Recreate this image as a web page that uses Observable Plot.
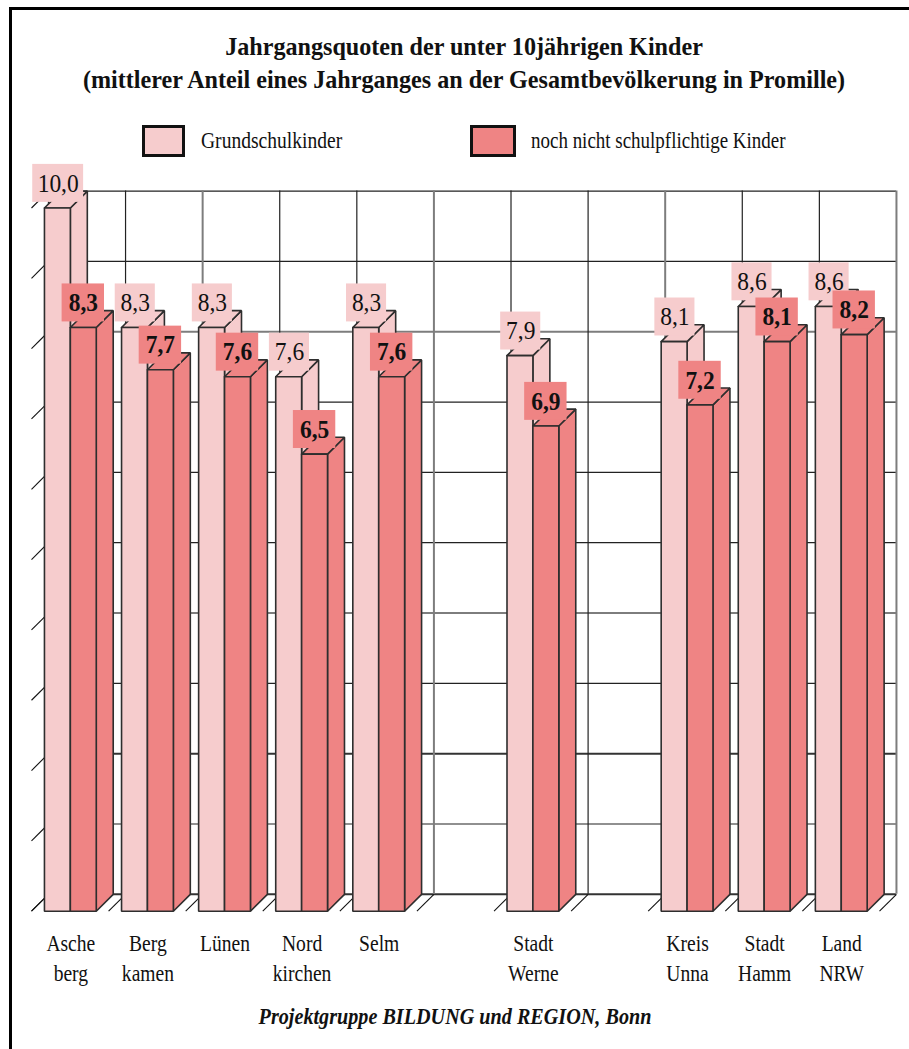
<!DOCTYPE html>
<html lang="de">
<head>
<meta charset="utf-8">
<title>Jahrgangsquoten der unter 10jährigen Kinder</title>
<script src="https://cdn.jsdelivr.net/npm/d3@7"></script>
<script src="https://cdn.jsdelivr.net/npm/@observablehq/plot@0.6"></script>
<style>
  html, body { margin: 0; padding: 0; background: #fff; }
  #page { position: relative; width: 909px; height: 1049px; overflow: hidden; font-family: "Liberation Serif", serif; color: #111; }
  #frame-top { position: absolute; left: 9px; right: 0; top: 7px; height: 3px; background: #000; }
  #frame-left { position: absolute; left: 9px; top: 7px; bottom: 0; width: 3px; background: #000; }
  .line { position: absolute; white-space: nowrap; transform-origin: center; }
  .title { left: 0; width: 928px; text-align: center; font-weight: bold; font-size: 26px; line-height: 30px; transform: scaleX(.928); }
  .legend-text { font-size: 23px; line-height: 28px; transform-origin: left center; transform: scaleX(.85); }
  .swatch { position: absolute; box-sizing: border-box; top: 125px; height: 32px; border: 3px solid #111; }
  #caption { left: 0; width: 910px; top: 1002px; text-align: center; font-weight: bold; font-style: italic; font-size: 23px; line-height: 30px; transform: scaleX(.877); }
  #chart { position: absolute; left: 0; top: 160px; }
  #chart svg { display: block; }
</style>
</head>
<body>
<div id="page">
  <div id="frame-top"></div>
  <div id="frame-left"></div>
  <div class="line title" style="top:32px">Jahrgangsquoten der unter 10jährigen Kinder</div>
  <div class="line title" style="top:65px">(mittlerer Anteil eines Jahrganges an der Gesamtbevölkerung in Promille)</div>
  <div class="swatch" style="left:142px;width:43px;background:#f6cccd"></div>
  <div class="line legend-text" style="left:201px;top:127px">Grundschulkinder</div>
  <div class="swatch" style="left:470px;width:46px;background:#ef8484"></div>
  <div class="line legend-text" style="left:531px;top:127px;transform:scaleX(.825)">noch nicht schulpflichtige Kinder</div>
  <div id="chart"></div>
  <div class="line" id="caption">Projektgruppe BILDUNG und REGION, Bonn</div>
</div>
<script>
// Category slots along the floor; the gaps separate towns, Kreis and comparison areas.
const slots = [0, 1, 2, 3, 4, 6, 8, 9, 10];
const labelTop = ["Asche", "Berg", "Lünen", "Nord", "Selm", "Stadt", "Kreis", "Stadt", "Land"];
const labelBottom = ["berg", "kamen", "", "kirchen", "", "Werne", "Unna", "Hamm", "NRW"];
const grundschule = [10.0, 8.3, 8.3, 7.6, 8.3, 7.9, 8.1, 8.6, 8.6];
const vorschule = [8.3, 7.7, 7.6, 6.5, 7.6, 6.9, 7.2, 8.1, 8.2];

const PINK = "#f6cccd";
const RED = "#ef8484";
const INK = "#2e2e2e";

// Oblique projection of the pseudo-3D bars, in scale units.
const DEPTH_X = 0.22;
const DEPTH_Y = 0.24;
const BAR_START = 0.168;
const BAR_WIDTH = 0.336;
const BOX_GAP = 0.08;
const BOX_HEIGHT = 0.54;

// Line weights of the back wall, which vary from line to line.
const THIN = {stroke: "#222", strokeWidth: 1.2};
const GREY = {stroke: "#7d7d7d", strokeWidth: 2};
const HEAVY = {stroke: "#333", strokeWidth: 2};
const rowStyles = [HEAVY, THIN, HEAVY, THIN, GREY, THIN, THIN, THIN, GREY, THIN, THIN];
const columnStyles = [THIN, THIN, GREY, THIN, THIN, GREY, THIN, THIN, GREY, THIN, THIN, GREY];

const comma = (v) => v.toFixed(1).replace(".", ",");

const bars = slots.map((s, i) => ({
  s,
  top: labelTop[i],
  bottom: labelBottom[i],
  pink: grundschule[i],
  red: vorschule[i]
}));

// Three closed faces (side, top, front) for one bar.
function faces(x1, x2, v, key) {
  const poly = (name, pts) => [...pts, pts[0]].map(([x, y]) => ({id: key + name, x, y}));
  return [
    ...poly("side", [[x2, v], [x2 + DEPTH_X, v + DEPTH_Y], [x2 + DEPTH_X, DEPTH_Y], [x2, 0]]),
    ...poly("top", [[x1, v], [x1 + DEPTH_X, v + DEPTH_Y], [x2 + DEPTH_X, v + DEPTH_Y], [x2, v]]),
    ...poly("front", [[x1, v], [x2, v], [x2, 0], [x1, 0]])
  ];
}

const pinkFaces = bars.flatMap((d) =>
  faces(d.s + BAR_START, d.s + BAR_START + BAR_WIDTH, d.pink, "p" + d.s));
const redFaces = bars.flatMap((d) =>
  faces(d.s + BAR_START + BAR_WIDTH, d.s + BAR_START + 2 * BAR_WIDTH, d.red, "r" + d.s));

const rows = d3.range(0, 11);
const columns = d3.range(0, 12);

const gridRows = rowStyles.map((style, v) =>
  Plot.ruleY([v + DEPTH_Y], {x1: DEPTH_X, x2: 11 + DEPTH_X, ...style}));
const gridColumns = columnStyles.map((style, c) =>
  Plot.ruleX([c + DEPTH_X], {y1: DEPTH_Y, y2: 10 + DEPTH_Y, ...style}));

const valueBox = (key, offset, width, fill) =>
  Plot.rect(bars, {
    x1: (d) => d.s + offset - width(d) / 2,
    x2: (d) => d.s + offset + width(d) / 2,
    y1: (d) => d[key] + BOX_GAP,
    y2: (d) => d[key] + BOX_GAP + BOX_HEIGHT,
    fill
  });

const valueText = (key, offset, fontWeight) =>
  Plot.text(bars, {
    x: (d) => d.s + offset,
    y: (d) => d[key] + BOX_GAP + BOX_HEIGHT / 2,
    text: (d) => comma(d[key]),
    fontSize: 26,
    fontWeight,
    fill: "#111"
  });

const PINK_CENTER = BAR_START + BAR_WIDTH / 2 + 0.01;
const RED_CENTER = BAR_START + 1.5 * BAR_WIDTH;

const chart = Plot.plot({
  width: 909,
  height: 840,
  margin: 0,
  style: {fontFamily: "Liberation Serif", background: "transparent"},
  x: {domain: [0, 11], range: [31, 879], axis: null},
  y: {domain: [0, 10], range: [750.7, 47.5], axis: null},
  marks: [
    ...gridRows,
    ...gridColumns,
    // Depth ticks on the left edge and floor divisions between the slots.
    Plot.link(rows, {x1: 0, x2: DEPTH_X, y1: (v) => v, y2: (v) => v + DEPTH_Y, stroke: "#111", strokeWidth: 1.1}),
    Plot.link(columns, {x1: (c) => c, x2: (c) => c + DEPTH_X, y1: 0, y2: DEPTH_Y, stroke: "#111", strokeWidth: 1.1}),
    // Grundschulkinder first, the younger cohort in front of them.
    Plot.line(pinkFaces, {x: "x", y: "y", z: "id", fill: PINK, stroke: INK, strokeWidth: 1.6, strokeLinejoin: "miter"}),
    Plot.line(redFaces, {x: "x", y: "y", z: "id", fill: RED, stroke: INK, strokeWidth: 1.6, strokeLinejoin: "miter"}),
    valueBox("pink", PINK_CENTER, (d) => (d.pink >= 10 ? 0.66 : 0.52), PINK),
    valueText("pink", PINK_CENTER, "normal"),
    valueBox("red", RED_CENTER, () => 0.55, RED),
    valueText("red", RED_CENTER, "bold"),
    Plot.text(bars, {x: (d) => d.s + 0.51, y: 0, text: "top", dy: 32, fontSize: 23, fill: "#111"}),
    Plot.text(bars, {x: (d) => d.s + 0.51, y: 0, text: "bottom", dy: 62, fontSize: 23, fill: "#111"})
  ]
});

document.getElementById("chart").append(chart);

// The lettering is narrow: condense every chart label horizontally.
chart.querySelectorAll("text").forEach((t) => {
  const len = t.getComputedTextLength();
  if (len > 0) {
    const squeeze = /^\d+,\d$/.test(t.textContent) ? 0.9 : 0.85;
    t.setAttribute("textLength", (len * squeeze).toFixed(1));
    t.setAttribute("lengthAdjust", "spacingAndGlyphs");
  }
});
</script>
</body>
</html>
